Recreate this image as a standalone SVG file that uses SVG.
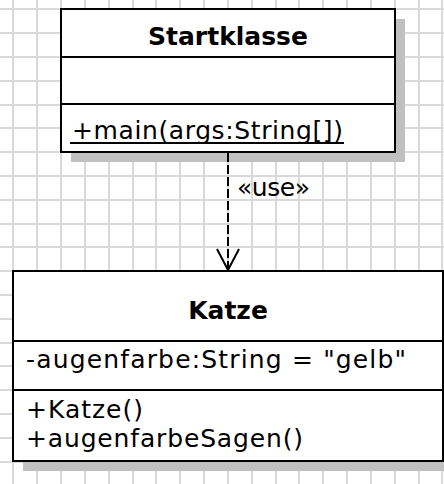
<svg xmlns="http://www.w3.org/2000/svg" width="444" height="484" viewBox="0 0 444 484">
<style>
.grid line{stroke:#d9d9d9;stroke-width:2}
.shadow{fill:#c0c0c0}
.box{fill:#ffffff;stroke:#000000;stroke-width:2}
.div{stroke:#000000;stroke-width:2}
.title{font-family:"DejaVu Sans",sans-serif;font-weight:bold;font-size:25px;fill:#000;text-anchor:middle}
.txt{font-family:"DejaVu Sans",sans-serif;font-size:25px;fill:#000}
.conn{stroke:#000;stroke-width:2;fill:none}
</style>
<rect width="444" height="484" fill="#ffffff"/>
<g class="grid">
<line x1="13" y1="0" x2="13" y2="484"/><line x1="37" y1="0" x2="37" y2="484"/><line x1="61" y1="0" x2="61" y2="484"/><line x1="85" y1="0" x2="85" y2="484"/><line x1="109" y1="0" x2="109" y2="484"/><line x1="133" y1="0" x2="133" y2="484"/><line x1="156" y1="0" x2="156" y2="484"/><line x1="180" y1="0" x2="180" y2="484"/><line x1="204" y1="0" x2="204" y2="484"/><line x1="228" y1="0" x2="228" y2="484"/><line x1="252" y1="0" x2="252" y2="484"/><line x1="276" y1="0" x2="276" y2="484"/><line x1="299" y1="0" x2="299" y2="484"/><line x1="323" y1="0" x2="323" y2="484"/><line x1="347" y1="0" x2="347" y2="484"/><line x1="371" y1="0" x2="371" y2="484"/><line x1="395" y1="0" x2="395" y2="484"/><line x1="419" y1="0" x2="419" y2="484"/><line x1="442" y1="0" x2="442" y2="484"/>
<line x1="0" y1="9" x2="444" y2="9"/><line x1="0" y1="33" x2="444" y2="33"/><line x1="0" y1="57" x2="444" y2="57"/><line x1="0" y1="81" x2="444" y2="81"/><line x1="0" y1="105" x2="444" y2="105"/><line x1="0" y1="128" x2="444" y2="128"/><line x1="0" y1="152" x2="444" y2="152"/><line x1="0" y1="176" x2="444" y2="176"/><line x1="0" y1="200" x2="444" y2="200"/><line x1="0" y1="224" x2="444" y2="224"/><line x1="0" y1="247" x2="444" y2="247"/><line x1="0" y1="271" x2="444" y2="271"/><line x1="0" y1="295" x2="444" y2="295"/><line x1="0" y1="319" x2="444" y2="319"/><line x1="0" y1="343" x2="444" y2="343"/><line x1="0" y1="366" x2="444" y2="366"/><line x1="0" y1="390" x2="444" y2="390"/><line x1="0" y1="414" x2="444" y2="414"/><line x1="0" y1="438" x2="444" y2="438"/><line x1="0" y1="462" x2="444" y2="462"/>
</g>
<g id="Startklasse">
<rect class="shadow" x="71" y="19" width="334" height="143"/>
<rect class="box" x="61" y="9" width="334" height="143"/>
<line class="div" x1="61" y1="57" x2="395" y2="57"/>
<line class="div" x1="61" y1="104" x2="395" y2="104"/>
<text class="title" x="228" y="45">Startklasse</text>
<text class="txt" x="72" y="139" textLength="271" lengthAdjust="spacing">+main(args:String[])</text>
<line class="div" x1="70" y1="143" x2="344" y2="143"/>
</g>
<g id="Katze">
<rect class="shadow" x="23" y="281" width="430" height="190"/>
<rect class="box" x="13" y="271" width="430" height="190"/>
<line class="div" x1="13" y1="341" x2="443" y2="341"/>
<line class="div" x1="13" y1="390" x2="443" y2="390"/>
<text class="title" x="228" y="319">Katze</text>
<text class="txt" x="26" y="368" textLength="380" lengthAdjust="spacing">-augenfarbe:String = "gelb"</text>
<text class="txt" x="26" y="418" textLength="117" lengthAdjust="spacing">+Katze()</text>
<text class="txt" x="26" y="447" textLength="277" lengthAdjust="spacing">+augenfarbeSagen()</text>
</g>
<g id="connectors">
<line class="conn" x1="228" y1="153" x2="228" y2="269" stroke-dasharray="9 3"/>
<polyline class="conn" points="217,249 228,270 239,249"/>
<text class="txt" x="237" y="196" textLength="73" lengthAdjust="spacing">«use»</text>
</g>
</svg>
